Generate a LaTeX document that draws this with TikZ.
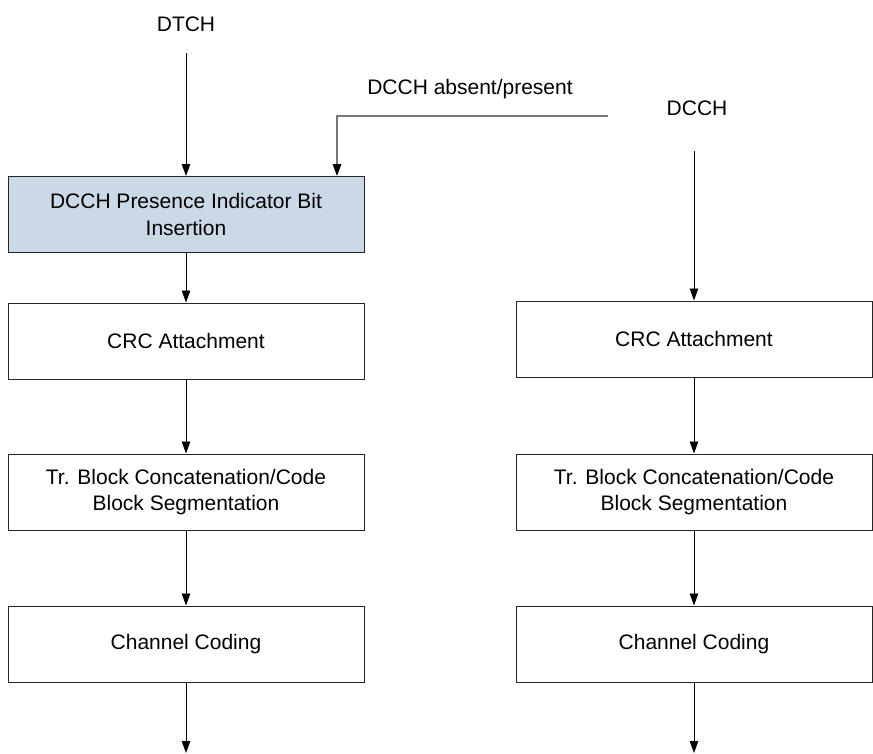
\documentclass[tikz,border=0pt]{standalone}
\usepackage{fontspec}
\setmainfont{Liberation Sans}
\usetikzlibrary{arrows.meta}
\definecolor{boxblue}{RGB}{203,216,230}
\definecolor{lineg}{RGB}{120,120,120}
\begin{document}
\begin{tikzpicture}[x=1pt,y=-1pt,
  box/.style={draw=black!85,line width=1pt,minimum width=356pt,minimum height=76pt,
    align=center,inner sep=0pt,font=\fontsize{21}{26.5}\selectfont},
  lbl/.style={inner sep=0pt,font=\fontsize{21}{26.5}\selectfont},
  arr/.style={line width=0.9pt,-{Triangle[length=12pt,width=8.5pt,color=black]}},
  garr/.style={draw=lineg,line width=1.6pt,-{Triangle[length=12pt,width=8.5pt,color=black]}}]
\useasboundingbox (0,0) rectangle (873,753);
% labels
\node[lbl] (dtch) at (186,24) {DTCH};
\node[lbl] (absent) at (470,89) {DCCH absent/present};
\node[lbl] (dcch) at (697,108) {DCCH};
% left column
\node[box,fill=boxblue] (ins) at (186,214.5) {DCCH Presence Indicator Bit\\Insertion};
\node[box] (lcrc) at (186,341) {CRC Attachment};
\node[box] (ltr) at (186,492) {Tr. Block Concatenation/Code\\Block Segmentation};
\node[box] (lcc) at (186,644) {Channel Coding};
% right column
\node[box] (rcrc) at (694,339) {CRC Attachment};
\node[box] (rtr) at (694,492) {Tr. Block Concatenation/Code\\Block Segmentation};
\node[box] (rcc) at (694,644) {Channel Coding};
% coordinates
\coordinate (ls) at (186,53);
\coordinate (rs) at (694,151);
\coordinate (gs) at (608,116);
\coordinate (le) at (186,753);
\coordinate (re) at (694,753);
% connectors
\draw[arr] (ls) -- (ins.north);
\draw[arr] (ins) -- (lcrc);
\draw[arr] (lcrc) -- (ltr);
\draw[arr] (ltr) -- (lcc);
\draw[arr] (lcc) -- (le);
\draw[arr] (rs) -- (rcrc.north);
\draw[arr] (rcrc) -- (rtr);
\draw[arr] (rtr) -- (rcc);
\draw[arr] (rcc) -- (re);
\draw[garr] (gs) -| ([xshift=151pt]ins.north);
\end{tikzpicture}
\end{document}
